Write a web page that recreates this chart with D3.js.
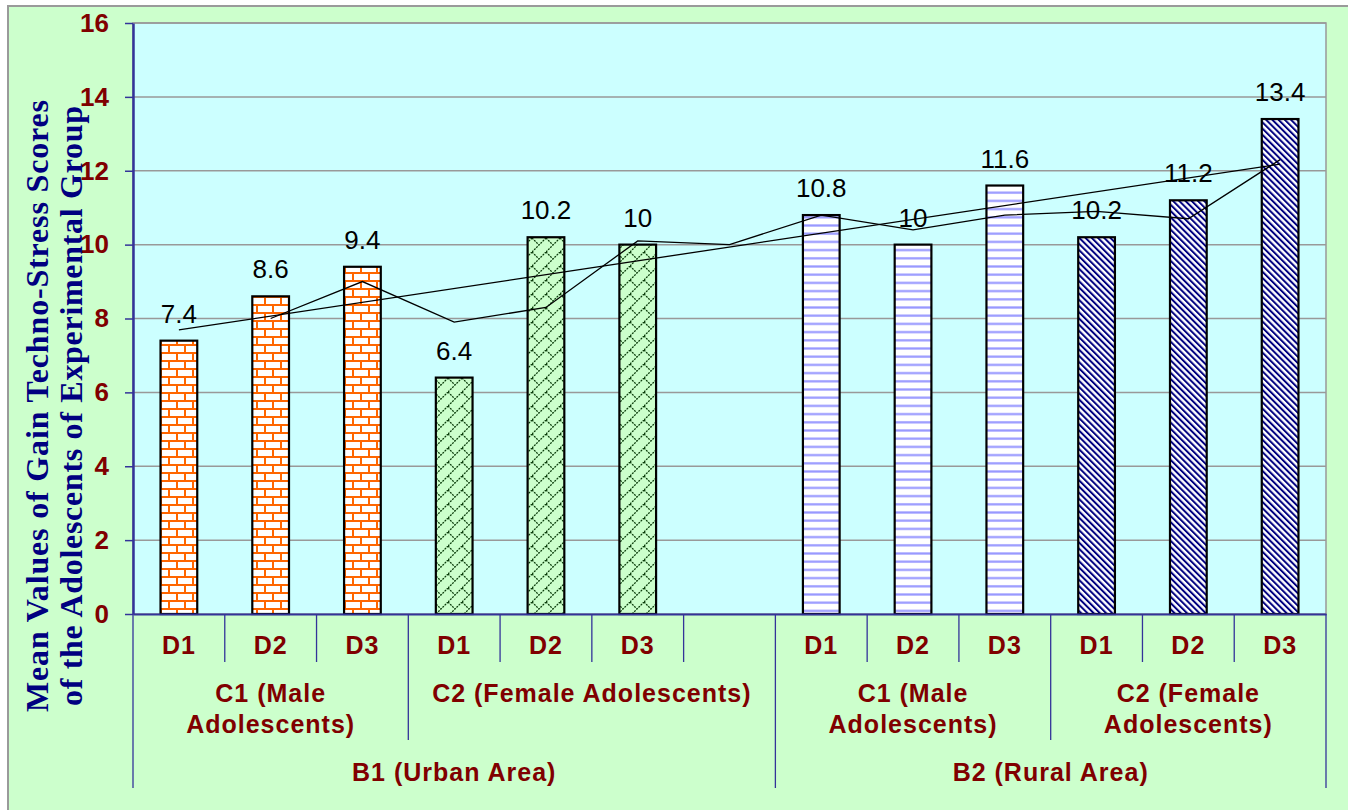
<!DOCTYPE html>
<html>
<head>
<meta charset="utf-8">
<script src="https://cdn.jsdelivr.net/npm/d3@7"></script>
<style>
  body { margin: 0; background: #fff; }
  svg { display: block; }
</style>
</head>
<body>
<div id="chart"></div>
<script>
// ---- data ----
const dLabels = ["D1", "D2", "D3", "D1", "D2", "D3", "", "D1", "D2", "D3", "D1", "D2", "D3"];
const values = [7.4, 8.6, 9.4, 6.4, 10.2, 10, null, 10.8, 10, 11.6, 10.2, 11.2, 13.4];
const cLabels = [["C1 (Male", "Adolescents)"], ["C2 (Female Adolescents)"], ["C1 (Male", "Adolescents)"], ["C2 (Female", "Adolescents)"]];
const cSpans = [3, 4, 3, 3];
const bLabels = ["B1 (Urban Area)", "B2 (Rural Area)"];
const bSpans = [7, 6];
// 2-period moving average line, as it appears in the picture
const movingAvg = [null, 8.0, 9.0, 7.9, 8.3, 10.1, 10.0, 10.8, 10.4, 10.8, 10.9, 10.7, 12.3];
// linear trend line end points (first and last slot)
const trendEnds = [7.69, 12.18];
const yTicks = [0, 2, 4, 6, 8, 10, 12, 14, 16];
const titleLines = ["Mean Values of Gain Techno-Stress Scores", "of the Adolescents of Experimental Group"];

const W = 1348, H = 810;
const plot = { left: 133, right: 1326, top: 23, bottom: 614 };
const keys = dLabels.map((d, i) => i);

const svg = d3.select("#chart").append("svg")
    .attr("width", W).attr("height", H);

// patterns
const defs = svg.append("defs");
let p = defs.append("pattern").attr("id", "brick")
    .attr("patternUnits", "userSpaceOnUse").attr("width", 16).attr("height", 16);
p.append("rect").attr("width", 16).attr("height", 16).attr("fill", "#fff");
p.append("path").attr("d", "M0,1H16M0,9H16M1,1V9M9,9V17")
    .attr("stroke", "#FF6600").attr("stroke-width", 2).attr("fill", "none");

p = defs.append("pattern").attr("id", "trellis")
    .attr("patternUnits", "userSpaceOnUse").attr("width", 14).attr("height", 14);
p.append("rect").attr("width", 14).attr("height", 14).attr("fill", "#CCFFCC");
p.append("path").attr("d", "M0,14L14,0M0,0L7,7")
    .attr("stroke", "#0b3d0b").attr("stroke-width", 1.3).attr("stroke-dasharray", "2,1").attr("fill", "none");

p = defs.append("pattern").attr("id", "hlines")
    .attr("patternUnits", "userSpaceOnUse").attr("width", 8).attr("height", 8.2);
p.append("rect").attr("width", 8).attr("height", 8.2).attr("fill", "#fff");
p.append("rect").attr("y", 3).attr("width", 8).attr("height", 2.2).attr("fill", "#9999FF");

p = defs.append("pattern").attr("id", "navyDiag")
    .attr("patternUnits", "userSpaceOnUse").attr("width", 4.4).attr("height", 10)
    .attr("patternTransform", "rotate(-45)");
p.append("rect").attr("width", 4.4).attr("height", 10).attr("fill", "#fff");
p.append("rect").attr("width", 2).attr("height", 10).attr("fill", "#000080");

const groupFills = ["url(#brick)", "url(#trellis)", "url(#hlines)", "url(#navyDiag)"];

// chart area + plot area
svg.append("rect").attr("x", 8).attr("y", 6).attr("width", W).attr("height", H)
    .attr("fill", "#CCFFCC").attr("stroke", "#9a9a9a").attr("stroke-width", 2);

const y = d3.scaleLinear().domain([0, 16]).range([plot.bottom, plot.top]);
const slot = d3.scaleBand().domain(keys).range([plot.left, plot.right]);
const bar = d3.scaleBand().domain(keys).range([plot.left, plot.right])
    .paddingInner(0.6).paddingOuter(0.3);
const cx = i => slot(i) + slot.bandwidth() / 2;

svg.append("rect").attr("x", plot.left).attr("y", plot.top)
    .attr("width", plot.right - plot.left).attr("height", plot.bottom - plot.top)
    .attr("fill", "#CCFFFF").attr("stroke", "#999").attr("stroke-width", 1.5);

// gridlines
svg.append("g").selectAll("line").data(yTicks.slice(1)).enter().append("line")
    .attr("x1", plot.left).attr("x2", plot.right)
    .attr("y1", d => y(d)).attr("y2", d => y(d))
    .attr("stroke", "#999").attr("stroke-width", 1.5);

// group index per slot
const groupOf = [];
cSpans.forEach((s, g) => { for (let k = 0; k < s; k++) groupOf.push(g); });

// bars
svg.append("g").selectAll("rect")
    .data(keys.filter(i => values[i] != null)).enter().append("rect")
    .attr("x", i => bar(i))
    .attr("y", i => y(values[i]))
    .attr("width", bar.bandwidth())
    .attr("height", i => y(0) - y(values[i]))
    .attr("fill", i => groupFills[groupOf[i]])
    .attr("stroke", "#000").attr("stroke-width", 2.2);

// trend lines
const line = d3.line().defined(d => d.v != null).x(d => cx(d.i)).y(d => y(d.v));
svg.append("path")
    .attr("d", line(movingAvg.map((v, i) => ({ i, v }))))
    .attr("fill", "none").attr("stroke", "#000").attr("stroke-width", 1.3);
svg.append("path")
    .attr("d", line([{ i: 0, v: trendEnds[0] }, { i: keys.length - 1, v: trendEnds[1] }]))
    .attr("fill", "none").attr("stroke", "#000").attr("stroke-width", 1.3);

// value labels
svg.append("g").selectAll("text")
    .data(keys.filter(i => values[i] != null)).enter().append("text")
    .attr("x", i => cx(i))
    .attr("y", i => y(values[i]) - 18)
    .attr("text-anchor", "middle")
    .style("font-family", "Arial, 'Liberation Sans', sans-serif")
    .style("font-size", "26px")
    .attr("fill", "#000")
    .text(i => values[i]);

// y axis
const yAxis = svg.append("g").attr("transform", `translate(${plot.left},0)`)
    .call(d3.axisLeft(y).tickValues(yTicks).tickSize(8).tickPadding(16).tickSizeOuter(0));
yAxis.select(".domain").attr("stroke", "#333399").attr("stroke-width", 2.5);
yAxis.selectAll(".tick line").attr("stroke", "#333399").attr("stroke-width", 1.5);
yAxis.selectAll(".tick text")
    .style("font-family", "Arial, 'Liberation Sans', sans-serif")
    .style("font-size", "26px").style("font-weight", "bold")
    .attr("fill", "#800000");

// x axis (first level labels)
const xAxis = svg.append("g").attr("transform", `translate(0,${plot.bottom})`)
    .call(d3.axisBottom(slot).tickSize(0).tickPadding(0).tickFormat(i => dLabels[i]));
xAxis.select(".domain").attr("stroke", "#333399").attr("stroke-width", 2);
xAxis.selectAll(".tick text")
    .attr("y", 40).attr("dy", null)
    .style("font-family", "Arial, 'Liberation Sans', sans-serif")
    .style("font-size", "25px").style("font-weight", "bold")
    .style("letter-spacing", "1px")
    .attr("fill", "#800000");

// hierarchical dividers
const bound = k => k < keys.length ? slot(k) : plot.right;
const cEdges = [0], bEdges = [0];
cSpans.forEach(s => cEdges.push(cEdges[cEdges.length - 1] + s));
bSpans.forEach(s => bEdges.push(bEdges[bEdges.length - 1] + s));
const divs = d3.range(keys.length + 1).map(k => ({
    k, y2: bEdges.includes(k) ? 788 : cEdges.includes(k) ? 740 : 662
}));
svg.append("g").selectAll("line").data(divs).enter().append("line")
    .attr("x1", d => bound(d.k)).attr("x2", d => bound(d.k))
    .attr("y1", plot.bottom).attr("y2", d => d.y2)
    .attr("stroke", "#333399").attr("stroke-width", 1.3);

// second level labels
const cG = svg.append("g")
    .style("font-family", "Arial, 'Liberation Sans', sans-serif")
    .style("font-size", "25px").style("font-weight", "bold")
    .style("letter-spacing", "1px")
    .attr("fill", "#800000").attr("text-anchor", "middle");
cLabels.forEach((lines, g) => {
    const mid = (bound(cEdges[g]) + bound(cEdges[g + 1])) / 2;
    lines.forEach((t, j) => {
        cG.append("text").attr("x", mid).attr("y", 702 + j * 31).text(t);
    });
});
bLabels.forEach((t, g) => {
    const mid = (bound(bEdges[g]) + bound(bEdges[g + 1])) / 2;
    cG.append("text").attr("x", mid).attr("y", 781).text(t);
});

// y axis title
const tG = svg.append("g")
    .style("font-family", "'Times New Roman', 'Liberation Serif', serif")
    .style("font-size", "32px").style("font-weight", "bold")
    .attr("fill", "#000080").attr("text-anchor", "middle");
titleLines.forEach((t, j) => {
    tG.append("text")
        .attr("transform", `translate(${48 + j * 34},406) rotate(-90)`)
        .attr("textLength", j === 0 ? 612 : 600)
        .attr("lengthAdjust", "spacing")
        .text(t);
});
</script>
</body>
</html>
